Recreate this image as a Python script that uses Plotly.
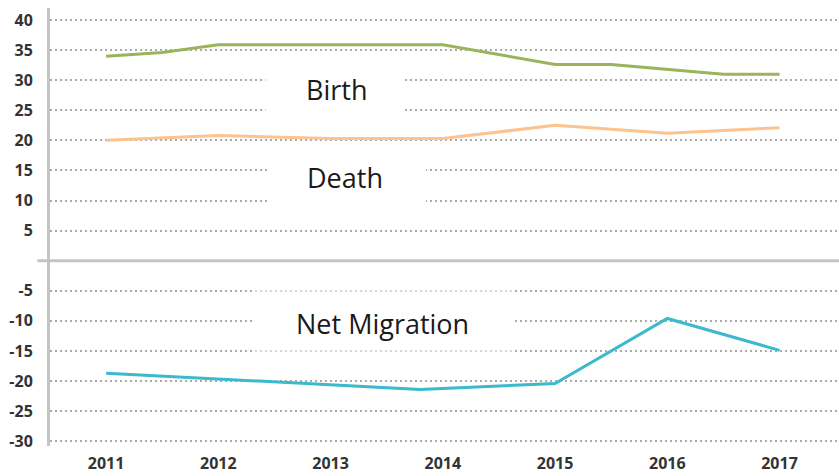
import plotly.graph_objects as go

# Data
birth_x = [2011, 2011.5, 2012, 2014, 2015, 2015.5, 2016.5, 2017]
birth_y = [34.0, 34.6, 35.9, 35.9, 32.6, 32.6, 31.0, 31.0]

death_x = [2011, 2012, 2013, 2014, 2015, 2016, 2017]
death_y = [20.0, 20.8, 20.3, 20.3, 22.5, 21.2, 22.1]

mig_x = [2011, 2012, 2013, 2013.8, 2015, 2016, 2017]
mig_y = [-18.7, -19.7, -20.6, -21.4, -20.4, -9.6, -14.9]

years = [2011, 2012, 2013, 2014, 2015, 2016, 2017]
ytick_vals = [-30, -25, -20, -15, -10, -5, 5, 10, 15, 20, 25, 30, 35, 40]

series_names = ["Birth", "Death", "Net Migration"]
series_colors = ["#9bb35a", "#fcc38e", "#3bb9cd"]

fig = go.Figure()
for name, xs, ys, col in zip(series_names,
                             [birth_x, death_x, mig_x],
                             [birth_y, death_y, mig_y],
                             series_colors):
    fig.add_trace(go.Scatter(x=xs, y=ys, mode="lines", name=name,
                             line=dict(color=col, width=3),
                             showlegend=False))

# white label boxes (cover gridlines)
boxes = [
    (2012.42, 2013.66, 23.5, 32.5),
    (2012.46, 2013.85, 8.8, 18.3),
    (2012.30, 2014.64, -13.7, -6.1),
]
for x0, x1, y0, y1 in boxes:
    fig.add_shape(type="rect", xref="x", yref="y", x0=x0, x1=x1, y0=y0, y1=y1,
                  fillcolor="white", line=dict(width=0), layer="between")
# lighter region around Net Migration box
fig.add_shape(type="rect", xref="x", yref="y", x0=2012.30, x1=2014.64, y0=-15.8, y1=-4.2,
              fillcolor="rgba(255,255,255,0.5)", line=dict(width=0), layer="between")

# zero line extending left past the axis
fig.add_shape(type="line", xref="paper", yref="y", x0=-0.016, x1=1, y0=0, y1=0,
              line=dict(color="#c4c4c4", width=3), layer="between")

label_pos = [(2013.05, 28.5), (2013.13, 13.9), (2013.46, -10.4)]
for name, (lx, ly) in zip(series_names, label_pos):
    fig.add_annotation(x=lx, y=ly, xref="x", yref="y", text=name, showarrow=False,
                       font=dict(family="Open Sans", size=27, color="#1a1a1a"))

fig.update_layout(
    width=839, height=476,
    margin=dict(l=50, r=0, t=8, b=30, autoexpand=False),
    paper_bgcolor="white", plot_bgcolor="white",
)
fig.update_xaxes(
    range=[2010.5, 2017.53], tickvals=years, ticktext=[str(y) for y in years],
    showgrid=False, zeroline=False, showline=False, automargin=False,
    tickfont=dict(family="Open Sans", size=16, color="#333333", weight="bold"),
    ticklabelstandoff=6,
)
fig.update_yaxes(
    range=[-30.8, 42], tickvals=ytick_vals, ticktext=[str(v) for v in ytick_vals],
    showgrid=True, gridcolor="#aaaaaa", gridwidth=2, griddash="2px,3px",
    zeroline=False, showline=True, linecolor="#c4c4c4", linewidth=3,
    automargin=False,
    tickfont=dict(family="Open Sans", size=16, color="#333333", weight="bold"),
    ticklabelstandoff=11,
)

fig.write_html("out.html",
               config={"displayModeBar": False},
               post_script="document.body.style.margin='0';document.body.style.padding='0';")
